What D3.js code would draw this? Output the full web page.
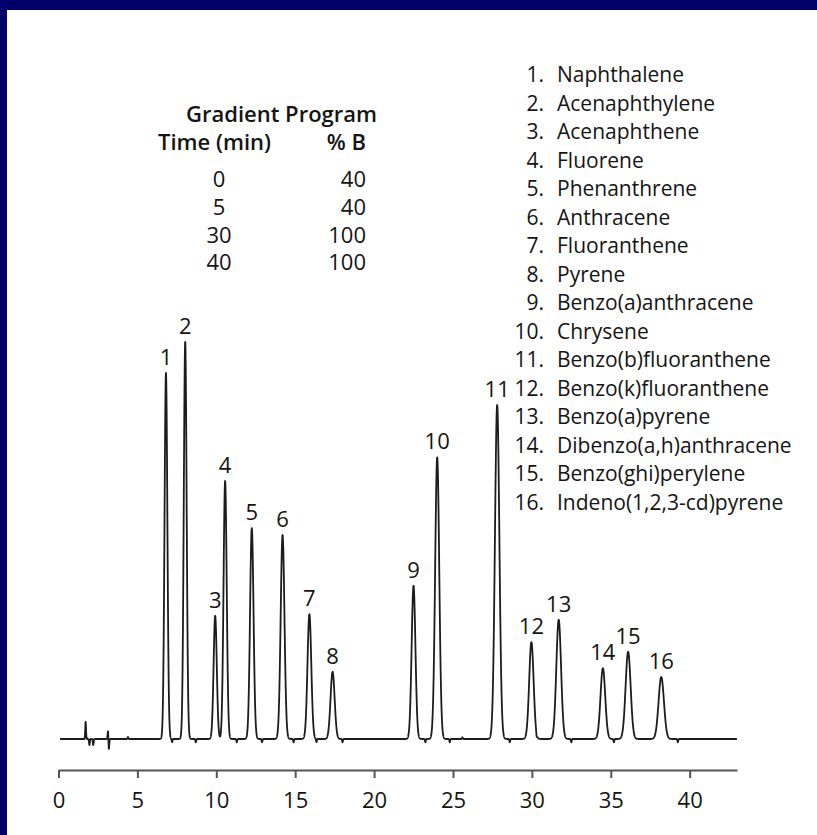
<!DOCTYPE html>
<html>
<head>
<meta charset="utf-8">
<script src="https://cdn.jsdelivr.net/npm/d3@7"></script>
<style>
    html, body { margin: 0; padding: 0; background: #fff; }
    svg { display: block; }
    text { font-family: "Open Sans", sans-serif; fill: #141414; }
</style>
</head>
<body>
<div class="chartCanvas"></div>
<script>
// peaks: number, retention time (min), height (signal units), sigma (min)
const peakNumbers = [1, 2, 3, 4, 5, 6, 7, 8, 9, 10, 11, 12, 13, 14, 15, 16];
const peakTimes = [6.81, 8.03, 9.93, 10.56, 12.25, 14.2, 15.9, 17.37, 22.5, 24.0, 27.8, 29.97, 31.7, 34.5, 36.1, 38.2];
const peakHeights = [91.5, 99.3, 30.8, 64.5, 52.7, 51.0, 31.2, 16.8, 38.3, 70.4, 83.5, 24.2, 29.8, 17.7, 21.8, 15.5];
const peakWidths = [0.09, 0.09, 0.1, 0.1, 0.11, 0.12, 0.12, 0.13, 0.12, 0.13, 0.14, 0.14, 0.15, 0.15, 0.16, 0.17];

// baseline disturbances: injection spikes, small dips and bumps
const noiseTimes = [1.72, 1.96, 2.2, 3.14, 3.19, 4.4, 7.2, 8.7, 11.3, 12.9, 14.9, 16.35, 18.0, 23.25, 24.8, 25.6, 28.6, 30.3, 32.5, 35.2, 39.25];
const noiseHeights = [4.3, -1.5, -1.5, 2.2, -2.7, 0.5, -0.8, -0.8, -0.8, -0.8, -0.8, -0.8, -0.8, -0.8, -0.8, 0.4, -0.8, -0.8, -0.8, -0.8, -0.8];

const compoundNames = [
    "Naphthalene", "Acenaphthylene", "Acenaphthene", "Fluorene", "Phenanthrene",
    "Anthracene", "Fluoranthene", "Pyrene", "Benzo(a)anthracene", "Chrysene",
    "Benzo(b)fluoranthene", "Benzo(k)fluoranthene", "Benzo(a)pyrene",
    "Dibenzo(a,h)anthracene", "Benzo(ghi)perylene", "Indeno(1,2,3-cd)pyrene"
];

const gradientTimes = [0, 5, 30, 40];
const gradientPercentB = [40, 40, 100, 100];

const timeTicks = [0, 5, 10, 15, 20, 25, 30, 35, 40];

class Chromatogram {

    static width = 817;
    static height = 835;
    static frameColor = "#000068";
    static traceStart = 0.1;
    static traceEnd = 43;

    svg;
    x;
    y;

    constructor() {
        this.svg = d3.select(".chartCanvas")
            .append("svg")
            .attr("width", Chromatogram.width)
            .attr("height", Chromatogram.height);

        this.x = d3.scaleLinear().domain([0, 43]).range([58.5, 737]);
        this.y = d3.scaleLinear().domain([0, 100]).range([739, 339]);
    }

    drawFrame() {
        this.svg.append("rect")
            .attr("width", Chromatogram.width).attr("height", Chromatogram.height)
            .attr("fill", "#fff");
        this.svg.append("rect")
            .attr("width", Chromatogram.width).attr("height", 10)
            .attr("fill", Chromatogram.frameColor);
        this.svg.append("rect")
            .attr("width", 7).attr("height", Chromatogram.height)
            .attr("fill", Chromatogram.frameColor);
    }

    signalAt(t) {
        let s = 0;
        peakTimes.forEach((pt, i) => {
            const z = (t - pt) / peakWidths[i];
            s += peakHeights[i] * Math.exp(-0.5 * z * z);
        });
        noiseTimes.forEach((nt, i) => {
            const z = (t - nt) / 0.025;
            s += noiseHeights[i] * Math.exp(-0.5 * z * z);
        });
        return s;
    }

    drawTrace() {
        const ts = d3.range(Chromatogram.traceStart, Chromatogram.traceEnd, 0.005);
        const line = d3.line()
            .x(t => this.x(t))
            .y(t => this.y(this.signalAt(t)));

        this.svg.append("path")
            .datum(ts)
            .attr("d", line)
            .attr("fill", "none")
            .attr("stroke", "#1c1c1c")
            .attr("stroke-width", 1.8)
            .attr("stroke-linejoin", "round");

        this.svg.append("g")
            .selectAll("text")
            .data(peakNumbers)
            .join("text")
            .attr("x", (d, i) => this.x(peakTimes[i]))
            .attr("y", (d, i) => this.y(peakHeights[i]) - 8)
            .attr("text-anchor", "middle")
            .attr("font-size", 22)
            .text(d => d);
    }

    drawAxis() {
        const axis = d3.axisBottom(this.x)
            .tickValues(timeTicks)
            .tickSize(8)
            .tickSizeOuter(0)
            .tickPadding(14);

        const g = this.svg.append("g")
            .attr("transform", "translate(0,770)")
            .call(axis);
        g.select(".domain").attr("stroke", "#555").attr("stroke-width", 2.2);
        g.selectAll(".tick line").attr("stroke", "#555").attr("stroke-width", 2);
        g.selectAll(".tick text")
            .attr("font-family", "Open Sans, sans-serif")
            .attr("font-size", 22)
            .attr("fill", "#141414");
    }

    drawGradientTable() {
        const g = this.svg.append("g");
        g.append("text")
            .attr("x", 186).attr("y", 121.7)
            .attr("font-size", 22).attr("font-weight", 600)
            .text("Gradient Program");
        g.append("text")
            .attr("x", 158).attr("y", 150)
            .attr("font-size", 22).attr("font-weight", 600)
            .text("Time (min)");
        g.append("text")
            .attr("x", 366).attr("y", 150)
            .attr("text-anchor", "end")
            .attr("font-size", 22).attr("font-weight", 600)
            .text("% B");

        const rowY = i => 187 + i * 27.8;
        g.selectAll("text.time")
            .data(gradientTimes)
            .join("text")
            .attr("class", "time")
            .attr("x", 219).attr("y", (d, i) => rowY(i))
            .attr("text-anchor", "middle")
            .attr("font-size", 22)
            .text(d => d);
        g.selectAll("text.pct")
            .data(gradientPercentB)
            .join("text")
            .attr("class", "pct")
            .attr("x", 366).attr("y", (d, i) => rowY(i))
            .attr("text-anchor", "end")
            .attr("font-size", 22)
            .text(d => d);
    }

    drawLegend() {
        const rowY = i => 82.3 + i * 28.5;
        const g = this.svg.append("g");
        g.selectAll("text.num")
            .data(peakNumbers)
            .join("text")
            .attr("class", "num")
            .attr("x", 544).attr("y", (d, i) => rowY(i))
            .attr("text-anchor", "end")
            .attr("font-size", 21)
            .text(d => d + ".");
        g.selectAll("text.name")
            .data(compoundNames)
            .join("text")
            .attr("class", "name")
            .attr("x", 557).attr("y", (d, i) => rowY(i))
            .attr("font-size", 21)
            .text(d => d);
    }

    static launch() {
        const chart = new Chromatogram();
        chart.drawFrame();
        chart.drawAxis();
        chart.drawTrace();
        chart.drawGradientTable();
        chart.drawLegend();
    }
}

Chromatogram.launch();
</script>
</body>
</html>
